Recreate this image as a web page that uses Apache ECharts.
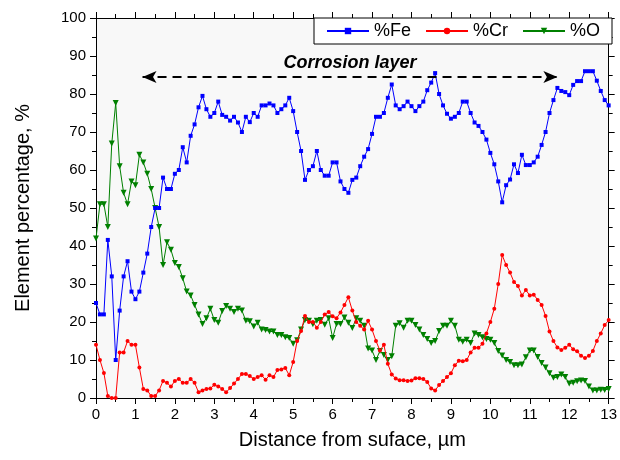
<!DOCTYPE html>
<html>
<head>
<meta charset="utf-8">
<script src="https://cdn.jsdelivr.net/npm/echarts@6/dist/echarts.min.js"></script>
<style>html,body{margin:0;padding:0;background:#fff}#c{width:620px;height:460px}</style>
</head>
<body>
<div id="c"></div>
<script>
const distance = [
0.0,0.1,0.2,0.3,0.4,0.5,0.6,0.7,0.8,0.9,
1.0,1.1,1.2,1.3,1.4,1.5,1.6,1.7,1.8,1.9,
2.0,2.1,2.2,2.3,2.4,2.5,2.6,2.7,2.8,2.9,
3.0,3.1,3.2,3.3,3.4,3.5,3.6,3.7,3.8,3.9,
4.0,4.1,4.2,4.3,4.4,4.5,4.6,4.7,4.8,4.9,
5.0,5.1,5.2,5.3,5.4,5.5,5.6,5.7,5.8,5.9,
6.0,6.1,6.2,6.3,6.4,6.5,6.6,6.7,6.8,6.9,
7.0,7.1,7.2,7.3,7.4,7.5,7.6,7.7,7.8,7.9,
8.0,8.1,8.2,8.3,8.4,8.5,8.6,8.7,8.8,8.9,
9.0,9.1,9.2,9.3,9.4,9.5,9.6,9.7,9.8,9.9,
10.0,10.1,10.2,10.3,10.4,10.5,10.6,10.7,10.8,10.9,
11.0,11.1,11.2,11.3,11.4,11.5,11.6,11.7,11.8,11.9,
12.0,12.1,12.2,12.3,12.4,12.5,12.6,12.7,12.8,12.9,
13.0];

const fe = [
25,22,22,41.6,32,10,23,32,36,28,
26,28,33,38,45,50,50,58,55,55,
59,60,66,62,69,72,76.5,79.5,76,74,
75,78,74.5,74,73,74,72.5,70,74,72.6,
75,74,77,77,77.5,77,75,76,77,79,
75.5,70,65,57.4,60,61,65,60,58.5,58.5,
62,62,57,55,54,57.4,58,61,63.5,65.5,
69.5,74,74,75,79,82.5,77,76,76.8,78,
76.8,75.5,76.8,78,81,83,85.5,80,77,74.8,
73.5,74,75,78,78,75,72.5,71.6,70,68,
64.5,61.5,57,51.5,56,57.5,61.5,59.2,64,61.3,
61.3,62,63.5,66.6,70,75,78.4,81.6,80.8,80.5,
79.7,82.4,83.4,83.4,86,86,86,83.5,80.8,78.4,
77];

const cr = [
14,10,6.6,0.5,0,0,12,12,15,14,
14,8,2.4,2,0.5,0.5,2,4.5,4,3,
4.5,5,4,4,5,4,1.5,2,2.4,2.5,
3.5,3,2.4,1.5,2.6,3.8,5,6.3,6.3,5.8,
5,5.5,6,4.8,6,5.5,7.4,7.5,7.9,6,
9.5,15,17.6,21.6,20,20,18.5,20,22,22.6,
21.5,21,22.5,24.5,26.5,23,20,19,18,20.3,
18,15,12.5,14,9,6.2,5.1,4.7,4.7,4.5,
4.6,5.2,5.2,5,4.2,2.5,2,3.4,4.5,5.5,
6.5,8.6,9.8,9.7,10,12,13.2,13.2,14.3,17,
20,23.5,30,37.6,35,33,30.5,29.5,27,28.4,
27,27.2,25.8,24.5,21.6,17.5,15,13.3,12.6,13.2,
14,12.8,12.3,11.1,10.5,11.1,12.4,15,17,19.2,
20.5];

const oxy = [
42,51,51,45,67,77.6,61,54,51,57,
56,64,62,59,55,50,45,35,41,39,
35.5,34.5,31.5,28,27,24.5,22,19.5,21,23.5,
20.5,19.8,22.9,24.2,23.5,22.6,23.5,23,20.3,20.2,
18.8,19.8,18,17.9,17.5,17.5,16.6,16.6,16,15.8,
14.3,15.2,18,20.5,20.3,19.4,20.3,20.5,19.3,21,
15.8,19.5,19.5,21.2,19.8,18.4,21,20.3,19,13,
12.5,10,12.4,11.3,10,11,19,19.7,18.5,20.3,
20.3,19.2,18,16.6,15.5,14.5,15,17.6,19,19,
20.3,19,15.3,14.8,15.3,14.5,17,16.6,16,15.5,
15.3,14.5,12.4,11.2,10,9.5,8.6,8.6,8.8,10.7,
12.5,12.5,10.8,9.2,8,6.5,5.3,5.5,6.2,5.5,
3.8,4,4.4,4.6,4.5,3,2,2,2.2,2.1,
2.4];

const seriesNames = ['%Fe', '%Cr', '%O'];
const xTicks = [0,1,2,3,4,5,6,7,8,9,10,11,12,13];
const yTicks = [0,10,20,30,40,50,60,70,80,90,100];
const arrowStart = 1.18, arrowEnd = 11.7, arrowY = 84.5;
const annotation = 'Corrosion layer';

const pairs = (ys) => distance.map((x, i) => [x, ys[i]]);
const FONT = 'Arial, "Liberation Sans", sans-serif';

const chart = echarts.init(document.getElementById('c'), null, {renderer: 'canvas'});

const baseAxisX = {
  type: 'value', min: xTicks[0], max: xTicks[xTicks.length - 1], interval: 1,
  axisLine: {show: true, onZero: false, lineStyle: {color: '#000', width: 1}},
  axisTick: {show: true, inside: false, length: 6, lineStyle: {color: '#000'}},
  minorTick: {show: true, splitNumber: 2, length: 4, lineStyle: {color: '#000'}},
  splitLine: {show: false}, minorSplitLine: {show: false}
};
const baseAxisY = {
  type: 'value', min: yTicks[0], max: yTicks[yTicks.length - 1], interval: 10,
  axisLine: {show: true, onZero: false, lineStyle: {color: '#000', width: 1}},
  axisTick: {show: true, inside: false, length: 6, lineStyle: {color: '#000'}},
  minorTick: {show: true, splitNumber: 2, length: 4, lineStyle: {color: '#000'}},
  splitLine: {show: false}, minorSplitLine: {show: false}
};

chart.setOption({
  animation: false,
  backgroundColor: '#ffffff',
  grid: {left: 96, right: 8, top: 18, bottom: 62, show: true, backgroundColor: '#f8f8f8', borderWidth: 0},
  legend: {
    data: seriesNames, left: 314, top: 18, orient: 'horizontal',
    padding: [4, 12, 4, 12], itemGap: 14, itemWidth: 42, itemHeight: 8,
    backgroundColor: '#ffffff', borderColor: '#000', borderWidth: 1, borderRadius: 0,
    textStyle: {fontFamily: FONT, fontSize: 18, color: '#000'}, z: 10
  },
  xAxis: [
    Object.assign({}, baseAxisX, {
      position: 'bottom',
      axisLabel: {show: true, fontFamily: FONT, fontSize: 15, color: '#000', margin: 9},
      name: 'Distance from suface, µm', nameLocation: 'middle', nameGap: 32,
      nameTextStyle: {fontFamily: FONT, fontSize: 20, color: '#000'}
    }),
    Object.assign({}, baseAxisX, {position: 'top', axisLabel: {show: false}})
  ],
  yAxis: [
    Object.assign({}, baseAxisY, {
      position: 'left',
      axisLabel: {show: true, fontFamily: FONT, fontSize: 15, color: '#000', margin: 10},
      name: 'Element percentage, %', nameLocation: 'middle', nameGap: 63,
      nameTextStyle: {fontFamily: FONT, fontSize: 20, color: '#000'}
    }),
    Object.assign({}, baseAxisY, {position: 'right', axisLabel: {show: false}})
  ],
  series: [
    {
      name: seriesNames[0], type: 'line', xAxisIndex: 0, yAxisIndex: 0,
      data: pairs(fe), symbol: 'rect', symbolSize: 4, showAllSymbol: true,
      lineStyle: {color: '#0000ff', width: 1}, itemStyle: {color: '#0000ff'},
      emphasis: {disabled: true}, z: 3,
      markLine: {
        silent: true, symbol: ['arrow', 'arrow'], symbolSize: [9, 14],
        lineStyle: {color: '#000', type: [9, 6], width: 2},
        itemStyle: {color: '#000'},
        label: {show: true, position: 'insideMiddleTop', formatter: annotation, distance: 5,
          fontFamily: FONT, fontSize: 18, fontStyle: 'italic', fontWeight: 'bold', color: '#000'},
        emphasis: {disabled: true},
        data: [[{coord: [arrowStart, arrowY]}, {coord: [arrowEnd, arrowY]}]]
      }
    },
    {
      name: seriesNames[1], type: 'line', xAxisIndex: 0, yAxisIndex: 0,
      data: pairs(cr), symbol: 'circle', symbolSize: 4, showAllSymbol: true,
      lineStyle: {color: '#ff0000', width: 1}, itemStyle: {color: '#ff0000'},
      emphasis: {disabled: true}, z: 2
    },
    {
      name: seriesNames[2], type: 'line', xAxisIndex: 0, yAxisIndex: 0,
      data: pairs(oxy), symbol: 'triangle', symbolRotate: 180, symbolSize: 6, showAllSymbol: true,
      lineStyle: {color: '#008000', width: 1}, itemStyle: {color: '#008000'},
      emphasis: {disabled: true}, z: 1
    }
  ]
});
</script>
</body>
</html>
